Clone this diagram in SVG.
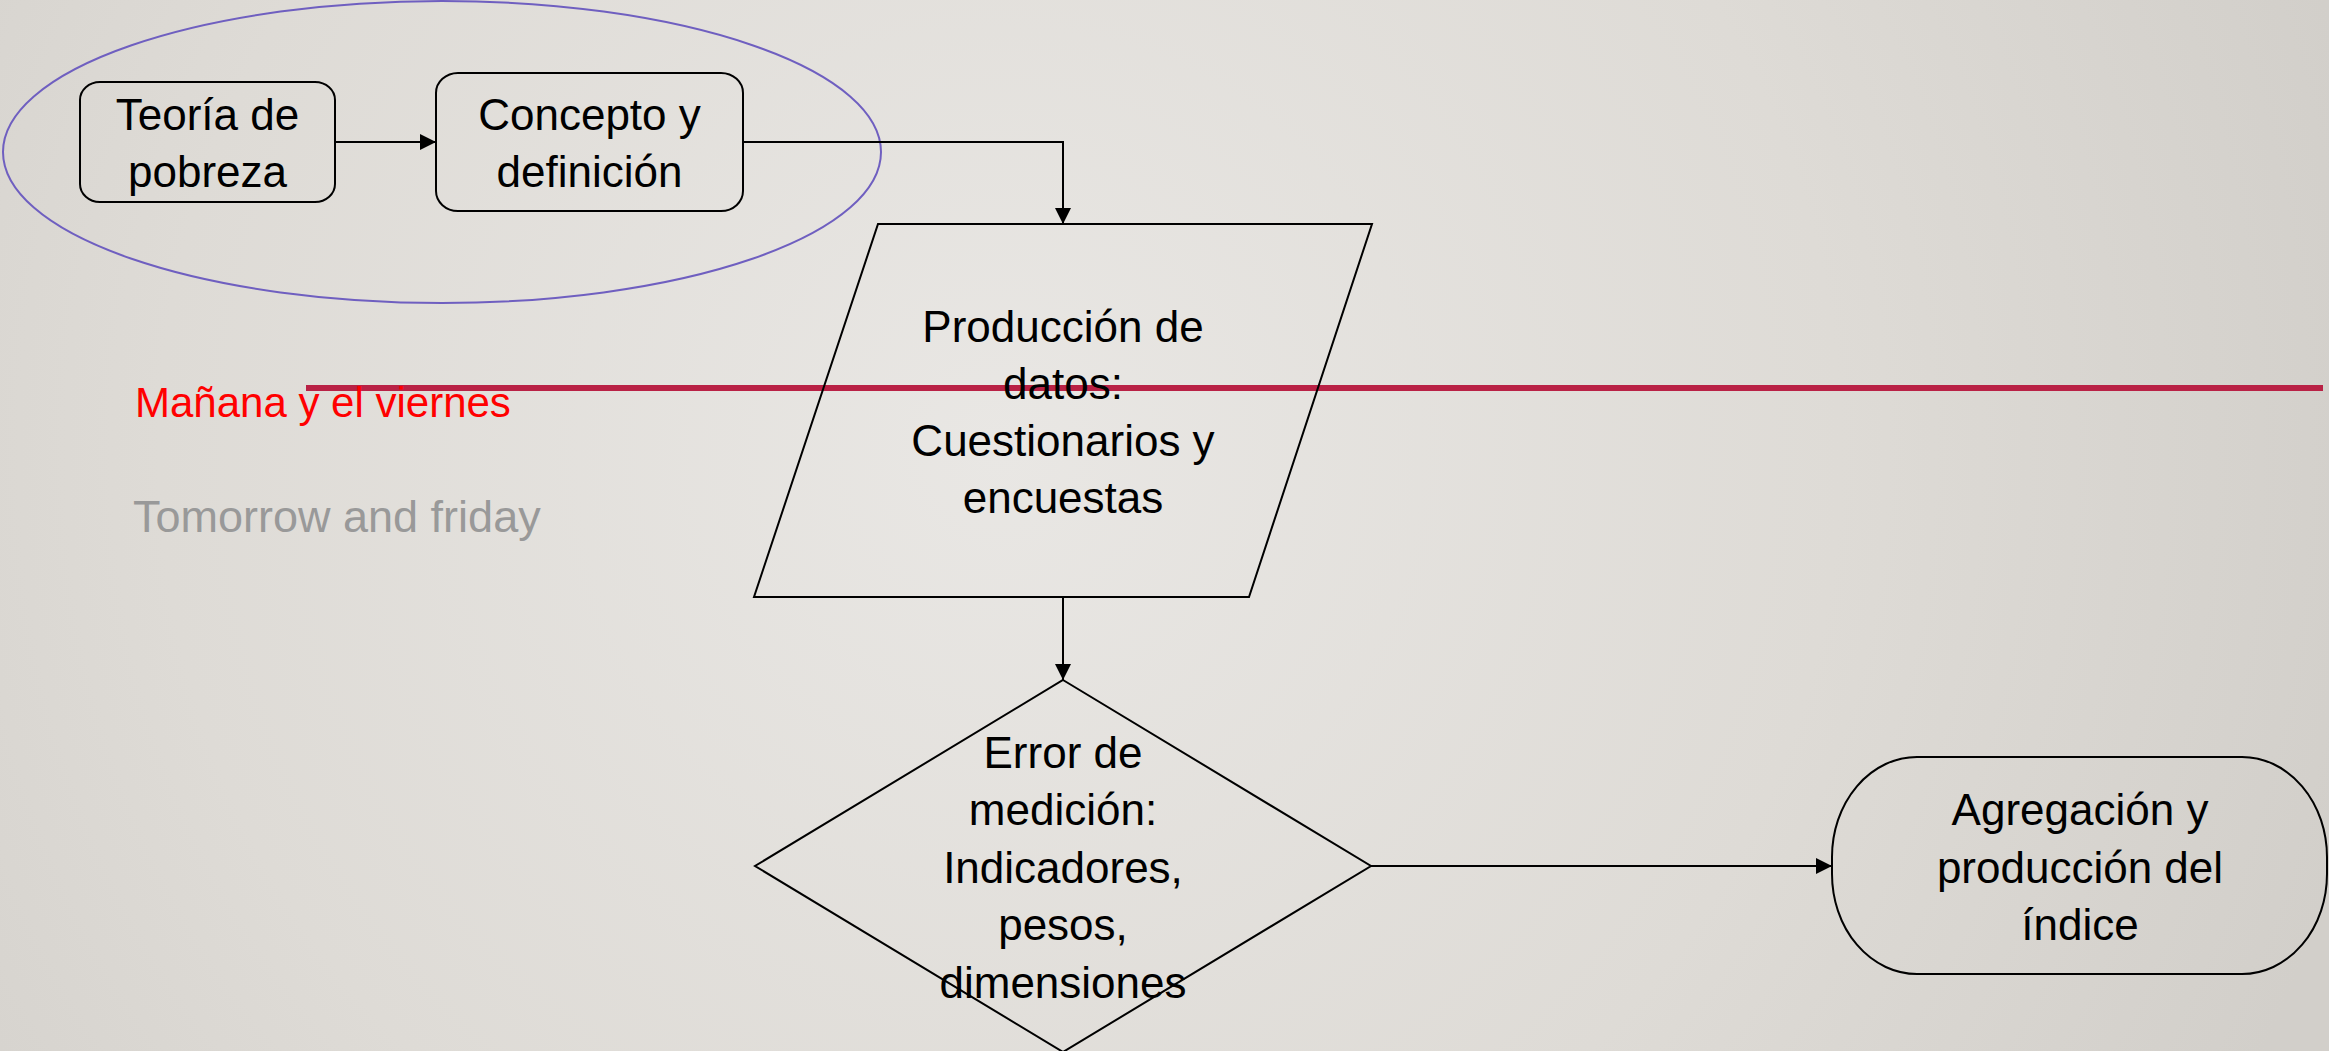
<svg xmlns="http://www.w3.org/2000/svg" width="2329" height="1051" viewBox="0 0 2329 1051">
<defs>
<radialGradient id="bg" cx="1000" cy="450" r="1400" gradientUnits="userSpaceOnUse">
<stop offset="0" stop-color="#e9e7e4"/>
<stop offset="0.6" stop-color="#dedbd6"/>
<stop offset="1" stop-color="#d2cfca"/>
</radialGradient>
<marker id="arrb" viewBox="0 0 10 10" refX="10" refY="5" markerWidth="8" markerHeight="8" orient="auto">
<path d="M0,0 L10,5 L0,10 z" fill="#000"/>
</marker>
</defs>
<style>
.shape{fill:none;stroke:#000;stroke-width:2}
.conn{fill:none;stroke:#000;stroke-width:2;marker-end:url(#arrb)}
.t{font-family:"Liberation Sans",Arial,sans-serif;font-size:44px;fill:#000;text-anchor:middle}
.side{font-family:"Liberation Sans",Arial,sans-serif}
</style>
<rect x="0" y="0" width="2329" height="1051" fill="url(#bg)"/>

<g id="group-ellipse">
<ellipse cx="442" cy="152" rx="439" ry="151" fill="none" stroke="#6f5fc0" stroke-width="2"/>
</g>

<g id="red-line">
<line x1="306" y1="388" x2="2323" y2="388" stroke="#b92145" stroke-width="6"/>
</g>

<g id="labels">
<text class="side" x="135" y="417" fill="#ff0000" font-size="42">Mañana y el viernes</text>
<text class="side" x="133" y="532" fill="#999999" font-size="45">Tomorrow and friday</text>
</g>

<g id="connectors">
<line class="conn" x1="335" y1="142" x2="436" y2="142"/>
<polyline class="conn" points="743,142 1063,142 1063,224"/>
<line class="conn" x1="1063" y1="597" x2="1063" y2="680"/>
<line class="conn" x1="1371" y1="866" x2="1832" y2="866"/>
</g>

<g id="node-teoria">
<rect class="shape" x="80" y="82" width="255" height="120" rx="20" ry="18"/>
<text class="t" x="207.5" y="130">Teoría de</text>
<text class="t" x="207.5" y="187">pobreza</text>
</g>

<g id="node-concepto">
<rect class="shape" x="436" y="73" width="307" height="138" rx="22" ry="20"/>
<text class="t" x="589.5" y="130">Concepto y</text>
<text class="t" x="589.5" y="187">definición</text>
</g>

<g id="node-produccion">
<polygon class="shape" points="878,224 1372,224 1249,597 754,597"/>
<text class="t" x="1063" y="342">Producción de</text>
<text class="t" x="1063" y="399">datos:</text>
<text class="t" x="1063" y="456">Cuestionarios y</text>
<text class="t" x="1063" y="513">encuestas</text>
</g>

<g id="node-error">
<polygon class="shape" points="1063,680 1371,866 1063,1052 755,866"/>
<text class="t" x="1063" y="768">Error de</text>
<text class="t" x="1063" y="825">medición:</text>
<text class="t" x="1063" y="883">Indicadores,</text>
<text class="t" x="1063" y="940">pesos,</text>
<text class="t" x="1063" y="998">dimensiones</text>
</g>

<g id="node-agregacion">
<rect class="shape" x="1832" y="757" width="495" height="217" rx="85" ry="100"/>
<text class="t" x="2080" y="825">Agregación y</text>
<text class="t" x="2080" y="883">producción del</text>
<text class="t" x="2080" y="940">índice</text>
</g>
</svg>
